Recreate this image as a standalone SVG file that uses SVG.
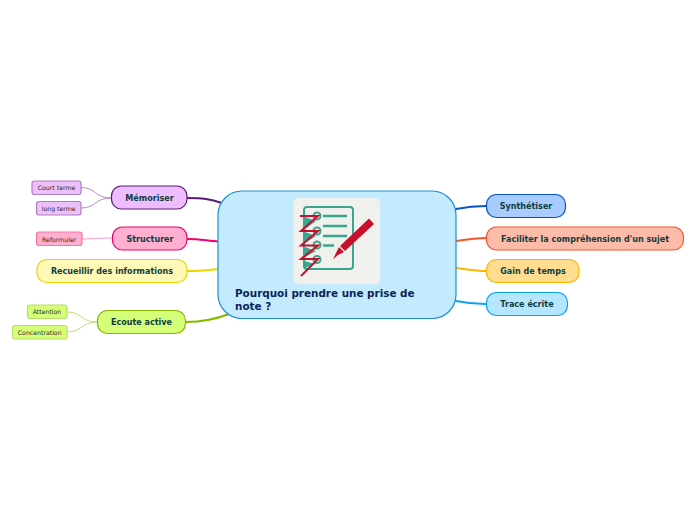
<svg xmlns="http://www.w3.org/2000/svg" width="696" height="520" viewBox="0 0 696 520">
<style>
text{font-family:"DejaVu Sans",Verdana,sans-serif;fill:#0f3d3d}
.m{font-size:8.05px;font-weight:700;text-anchor:middle}
.s{font-size:6.2px;text-anchor:middle;fill:#2a2a2a}
.c{fill:none;stroke-linecap:round}
.t{stroke-width:2}
.f{stroke-width:.9}
.n{stroke-width:1.2}
.b{stroke-width:1.200}
.i{fill:none;stroke:#3aa58f;stroke-width:2;stroke-linecap:round}
.l{stroke-width:2.400;stroke-linecap:butt}
</style>
<rect width="696" height="520" fill="#fff"/>
<g id="connectors">
<path class="c t" d="M187 198C203 198 210 199 222 203" stroke="#5b1a78"/>
<path class="c t" d="M187 239C200 239 208 241 219 241.500" stroke="#f2006e"/>
<path class="c t" d="M187 271C200 271 208 270 219 269" stroke="#ecd400"/>
<path class="c t" d="M186 322C202 322 216 319 229 314" stroke="#87b800"/>
<path class="c t" d="M456 209C466 207 474 206 486 206" stroke="#0a55c8"/>
<path class="c t" d="M456 241C466 240 474 238 486 238" stroke="#f4562a"/>
<path class="c t" d="M456 268C466 269 474 271 486 271" stroke="#ffb400"/>
<path class="c t" d="M456 301C466 303 474 304 486 304" stroke="#0aa5ee"/>
<path class="c f" d="M81 187.500C97 187.500 94 198 111 198" stroke="#b27cc0"/>
<path class="c f" d="M81 208C97 208 94 198 111 198" stroke="#b27cc0"/>
<path class="c f" d="M82 239C92 239 100 238 112 238" stroke="#fb8fbd"/>
<path class="c f" d="M67 312C83 312 80 322 97 322" stroke="#b9dc6c"/>
<path class="c f" d="M67 332C83 332 80 322 97 322" stroke="#b9dc6c"/>
</g>
<g id="central">
<rect x="218" y="191" width="238" height="127.500" rx="24" fill="#c4eafe" stroke="#1f8fd0" stroke-width="1.200"/>
<rect x="293.500" y="198" width="86.500" height="86" rx="5" fill="#f0f0ec"/>
<rect x="304" y="207" width="49" height="62" rx="3" class="i"/>
<path class="i l" d="M323 216H347M323 226H347M323 236H347M323 245.500H334"/>
<path d="M305 217L316 221L305 229Z M305 232L316 236L305 243Z M305 247L316 251L305 257Z M305 261L314 264L305 268Z" fill="#3aa58f"/>
<g fill="#f0f0ec" stroke="#3aa58f" stroke-width="2"><circle cx="317" cy="216" r="3.500"/><circle cx="317" cy="231" r="3.500"/><circle cx="317" cy="245" r="3.500"/><circle cx="317" cy="259.500" r="3.500"/></g>
<path d="M300 216H318L301 231H318L301 245.500H318L301 259H318L301 276" fill="none" stroke="#c8102e" stroke-width="2" stroke-linejoin="miter"/>
<path d="M369 218.500L374 224L345 251L340 246Z" fill="#c8102e"/>
<path d="M339 247L344 252L338 255L333 259.500L336 253Z" fill="#c8102e"/>
<text x="235" y="297" font-size="10.400" font-weight="700" style="fill:#0a2458">Pourquoi prendre une prise de</text>
<text x="235" y="310" font-size="10.400" font-weight="700" style="fill:#0a2458">note ?</text>
</g>
<g id="memoriser"><rect class="n" x="111.500" y="186" width="75.500" height="23" rx="10" fill="#eebdff" stroke="#5b1a78"/><text class="m" x="149.500" y="201">Mémoriser</text></g>
<g id="court-terme"><rect class="b" x="32" y="181" width="49" height="13.500" rx="2.500" fill="#ecc0fb" stroke="#b27cc0"/><text class="s" x="56.500" y="190">Court terme</text></g>
<g id="long-terme"><rect class="b" x="36.500" y="201.500" width="44.500" height="13.500" rx="2.500" fill="#ecc0fb" stroke="#b27cc0"/><text class="s" x="58.700" y="211">long terme</text></g>
<g id="structurer"><rect class="n" x="112.500" y="227" width="74.500" height="23" rx="10" fill="#ffb0d0" stroke="#f2006e"/><text class="m" x="150" y="242">Structurer</text></g>
<g id="reformuler"><rect class="b" x="36.500" y="232" width="45.500" height="13.500" rx="2.500" fill="#ffb0d0" stroke="#fb72a8"/><text class="s" x="59.200" y="242">Reformuler</text></g>
<g id="recueillir"><rect class="n" x="37" y="259.500" width="150" height="23" rx="10" fill="#fff9b8" stroke="#ecd400"/><text class="m" x="112" y="274">Recueillir des informations</text></g>
<g id="ecoute"><rect class="n" x="97.500" y="310.500" width="88" height="23" rx="10" fill="#d5ff78" stroke="#87b800"/><text class="m" x="141.500" y="325">Ecoute active</text></g>
<g id="attention"><rect class="b" x="27.500" y="305" width="39.500" height="13.500" rx="2.500" fill="#d5ff78" stroke="#b9dc6c"/><text class="s" x="47" y="314">Attention</text></g>
<g id="concentration"><rect class="b" x="12.500" y="325.500" width="54.500" height="13.500" rx="2.500" fill="#d5ff78" stroke="#b9dc6c"/><text class="s" x="39.700" y="335">Concentration</text></g>
<g id="synthetiser"><rect class="n" x="486.500" y="194.500" width="79" height="23" rx="10" fill="#a8ccff" stroke="#0a55c8"/><text class="m" x="526" y="209">Synthétiser</text></g>
<g id="faciliter"><rect class="n" x="486.500" y="227" width="197" height="23" rx="10" fill="#fdbcaa" stroke="#f4562a"/><text class="m" x="585" y="242">Faciliter la compréhension d'un sujet</text></g>
<g id="gain"><rect class="n" x="486.500" y="259.500" width="92.500" height="23" rx="10" fill="#ffdd90" stroke="#ffb400"/><text class="m" x="533" y="274">Gain de temps</text></g>
<g id="trace"><rect class="n" x="486.500" y="292.500" width="81" height="23" rx="10" fill="#b4e6ff" stroke="#0aa5ee"/><text class="m" x="527" y="307">Trace écrite</text></g>
</svg>
